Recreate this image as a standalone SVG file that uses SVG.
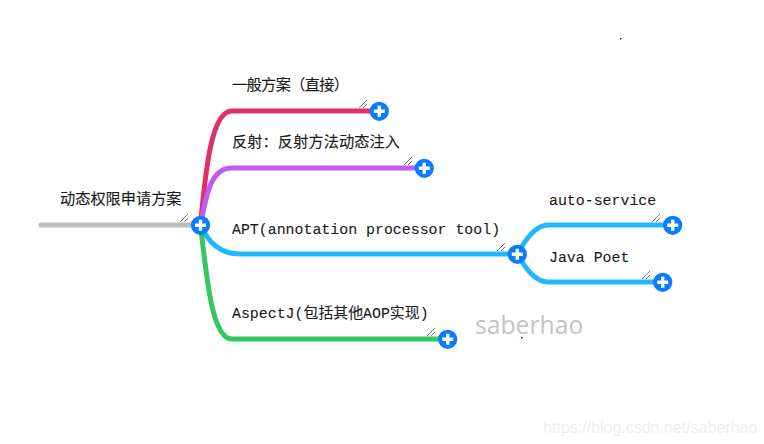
<svg xmlns="http://www.w3.org/2000/svg" width="764" height="444" viewBox="0 0 764 444">
<style>
.c{fill:none;stroke-width:5;stroke-linecap:round}
.t{font-family:"Liberation Mono","Noto Sans CJK SC",monospace;font-size:14.9px;fill:#1a1a1a;stroke:#1a1a1a;stroke-width:.1}
.z{font-family:"Noto Sans CJK SC","Liberation Sans",sans-serif;font-size:15.200px;fill:#1a1a1a;stroke:#1a1a1a;stroke-width:.15}
.h{stroke:#555;stroke-width:.8;fill:none}
.b{fill:#0a7cff}
.p{stroke:#fff;stroke-width:3.400;fill:none}
</style>
<defs>
<g id="plus"><circle class="b" r="9.600"/><path class="p" d="M-5.500 0H5.500M0-5.500V5.500"/></g>
<path id="hatch" class="h" d="M0 8L8 0M4 8L8 4"/>
</defs>
<rect width="764" height="444" fill="#fff"/>
<g id="connectors">
<path class="c" stroke="#bdbdbd" d="M41 225H200"/>
<path class="c" stroke="#df3068" d="M200.500 225C206 165 212 111 232 111H379"/>
<path class="c" stroke="#c05cf0" d="M200.500 225C207 190 212 168 232 168H424"/>
<path class="c" stroke="#37c75f" d="M200.500 225C207 280 212 339 232 339H447"/>
<path class="c" stroke="#22b8ff" d="M200.500 225C207 240 218 254 240 254H517"/>
<path class="c" stroke="#22b8ff" d="M517.500 254C525 240 535 225 548 225H672"/>
<path class="c" stroke="#22b8ff" d="M517.500 254C525 268 535 282 548 282H662"/>
</g>
<g id="root"><text class="z" x="60" y="204">动态权限申请方案</text><use href="#hatch" x="180" y="214"/><use href="#plus" x="200.500" y="225.300"/></g>
<g id="n1"><text class="z" x="232" y="90" textLength="117">一般方案（直接）</text><use href="#hatch" x="359" y="100"/><use href="#plus" x="379.300" y="111.300"/></g>
<g id="n2"><text class="z" x="232" y="147" textLength="168">反射：反射方法动态注入</text><use href="#hatch" x="404" y="157"/><use href="#plus" x="424.300" y="168.300"/></g>
<g id="n3"><text class="t" x="232" y="234">APT(annotation processor tool)</text><use href="#hatch" x="497" y="243"/><use href="#plus" x="517.300" y="254.300"/></g>
<g id="n4"><text class="t" x="549" y="205">auto-service</text><use href="#hatch" x="652" y="214"/><use href="#plus" x="672.700" y="225.300"/></g>
<g id="n5"><text class="t" x="549" y="262">Java Poet</text><use href="#hatch" x="642" y="271"/><use href="#plus" x="662.700" y="282.300"/></g>
<g id="n6"><text class="t" x="232" y="318">AspectJ(包括其他AOP实现)</text><use href="#hatch" x="427" y="328"/><use href="#plus" x="447.700" y="339.300"/></g>
<text x="475" y="334" font-family="Open Sans,Liberation Sans,sans-serif" font-size="24.700" fill="#c4c4c4">saberhao</text>
<text x="543" y="433" font-family="Liberation Sans,sans-serif" font-size="16" fill="#eeeeee">https://blog.csdn.net/saberhao</text>
<rect x="620" y="38" width="1.500" height="1.500" fill="#22c"/>
<rect x="521" y="337" width="1.500" height="1.500" fill="#22c"/>
</svg>
